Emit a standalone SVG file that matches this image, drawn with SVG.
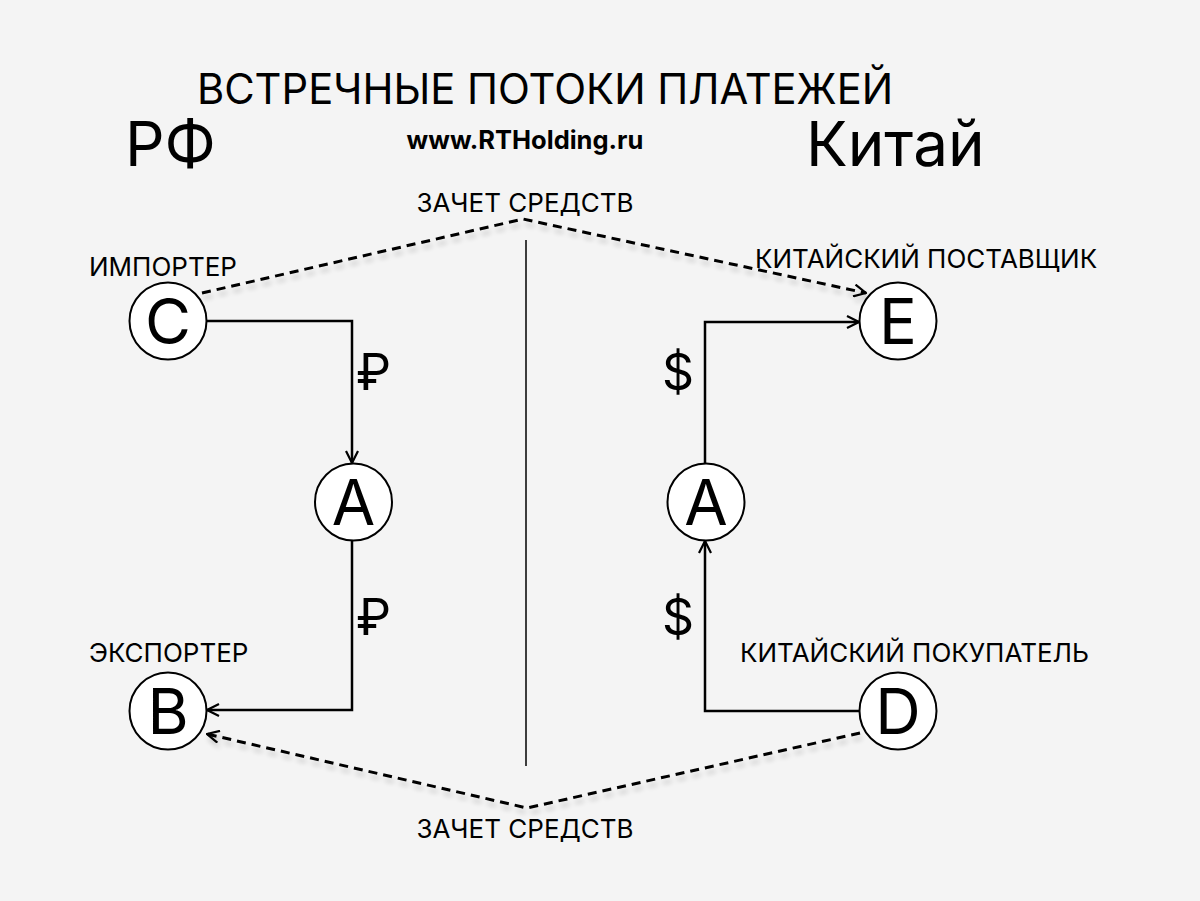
<svg xmlns="http://www.w3.org/2000/svg" width="1200" height="901" viewBox="0 0 1200 901">
<defs>
<style>
text{font-family:Inter,"Noto Sans","DejaVu Sans",sans-serif;fill:#000}
.lbl{font-size:26px}
.node circle{fill:#fff;stroke:#000;stroke-width:2}
.node text{font-size:63px;text-anchor:middle}
.flow{fill:none;stroke:#000;stroke-width:2.5}
.dash{fill:none;stroke:#000;stroke-width:3;stroke-dasharray:9 6}
.cur{font-size:50px}
</style>
<marker id="ah" viewBox="0 0 14 14" refX="13" refY="7" markerWidth="14" markerHeight="14" markerUnits="userSpaceOnUse" orient="auto">
<path d="M1,1 L13,7 L1,13" fill="none" stroke="#000" stroke-width="2.2"/>
</marker>
<filter id="sh" x="-10%" y="-50%" width="120%" height="200%">
<feGaussianBlur in="SourceAlpha" stdDeviation="2.5"/>
<feOffset dx="2" dy="5" result="b"/>
<feComponentTransfer><feFuncA type="linear" slope="0.18"/></feComponentTransfer>
<feMerge><feMergeNode/><feMergeNode in="SourceGraphic"/></feMerge>
</filter>
</defs>
<rect width="1200" height="901" fill="#f4f4f4"/>
<text x="545" y="104" font-size="41.7" text-anchor="middle">ВСТРЕЧНЫЕ ПОТОКИ ПЛАТЕЖЕЙ</text>
<text x="125" y="166" font-size="62">РФ</text>
<text x="806" y="166" font-size="62">Китай</text>
<text x="525" y="149" font-size="25.5" font-weight="bold" text-anchor="middle">www.RTHolding.ru</text>
<text x="525" y="212" class="lbl" text-anchor="middle">ЗАЧЕТ СРЕДСТВ</text>
<text x="525" y="838" class="lbl" text-anchor="middle">ЗАЧЕТ СРЕДСТВ</text>
<text x="89" y="276" class="lbl">ИМПОРТЕР</text>
<text x="89" y="662" class="lbl">ЭКСПОРТЕР</text>
<text x="755" y="268" class="lbl">КИТАЙСКИЙ ПОСТАВЩИК</text>
<text x="740" y="662" class="lbl">КИТАЙСКИЙ ПОКУПАТЕЛЬ</text>
<text x="356" y="390" class="cur">₽</text>
<text x="356" y="635" class="cur">₽</text>
<text x="662" y="390" class="cur">$</text>
<text x="662" y="635" class="cur">$</text>
<line x1="526" y1="240" x2="526" y2="766" stroke="#000" stroke-width="1.5"/>
<g id="connectors">
<path class="flow" d="M206,321 H352 V463" marker-end="url(#ah)"/>
<path class="flow" d="M352,541 V710 H207" marker-end="url(#ah)"/>
<path class="flow" d="M860,711 H705 V541" marker-end="url(#ah)"/>
<path class="flow" d="M705,463 V322 H859" marker-end="url(#ah)"/>
<g filter="url(#sh)">
<path class="dash" d="M202,293 L523,219 L866,293" marker-end="url(#ah)"/>
<path class="dash" d="M860,733 L527,808 L207,734" marker-end="url(#ah)"/>
</g>
</g>
<g id="node-C" class="node"><circle cx="168" cy="321" r="38.5"/><text x="168" y="344">C</text></g>
<g id="node-A1" class="node"><circle cx="353.5" cy="502" r="38.5"/><text x="353.5" y="525">A</text></g>
<g id="node-B" class="node"><circle cx="168" cy="711" r="38.5"/><text x="168" y="734">B</text></g>
<g id="node-E" class="node"><circle cx="898" cy="321" r="38.5"/><text x="898" y="344">E</text></g>
<g id="node-A2" class="node"><circle cx="706" cy="502" r="38.5"/><text x="706" y="525">A</text></g>
<g id="node-D" class="node"><circle cx="898" cy="711" r="38.5"/><text x="898" y="734">D</text></g>
</svg>
